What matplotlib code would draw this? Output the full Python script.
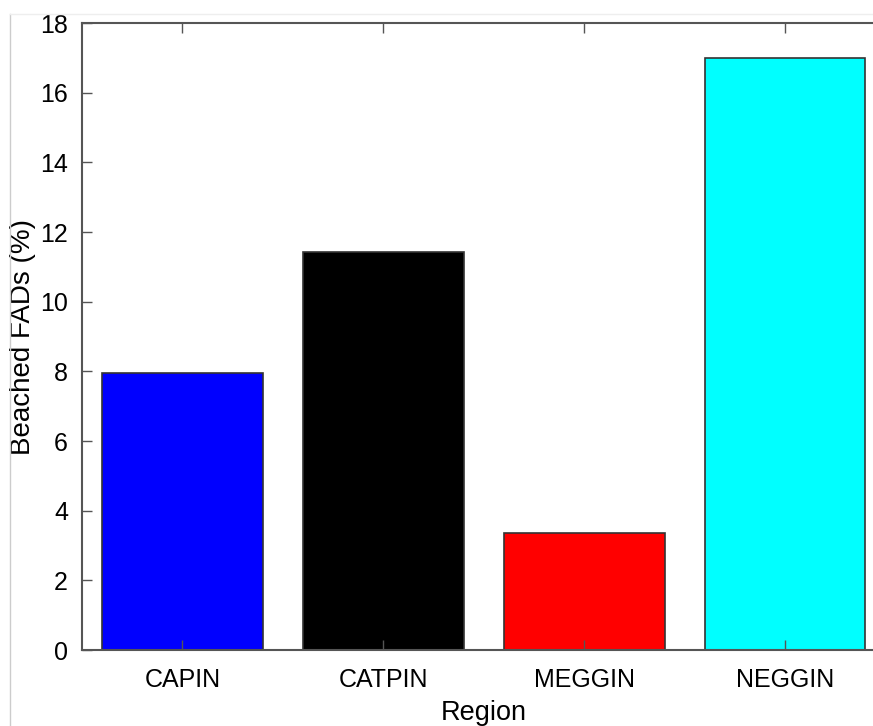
import matplotlib
matplotlib.use('Agg')
import matplotlib.pyplot as plt
from matplotlib.lines import Line2D

regions = ['CAPIN', 'CATPIN', 'MEGGIN', 'NEGGIN']
beached = [7.95, 11.43, 3.36, 17.0]
colors = ['#0000ff', '#000000', '#ff0000', '#00ffff']
yticks = [0, 2, 4, 6, 8, 10, 12, 14, 16, 18]

plt.rcParams['font.family'] = ['Liberation Sans', 'DejaVu Sans']

fig = plt.figure(figsize=(8.73, 7.26), dpi=100)
ax = fig.add_axes([82 / 873, 1 - 650 / 726, 803.5 / 873, 627 / 726])

x = list(range(1, len(regions) + 1))
ax.bar(x, beached, width=0.8, color=colors, edgecolor='#333333', linewidth=1.2)

ax.set_xlim(0.5, 4.5)
ax.set_ylim(0, 18)
ax.set_xticks(x)
ax.set_xticklabels(regions)
ax.set_yticks(yticks)
ax.tick_params(direction='in', length=7, width=1, color='#555555',
               labelsize=18, top=True, right=True)
ax.tick_params(axis='x', pad=13)
ax.tick_params(axis='y', pad=10)
for s in ax.spines.values():
    s.set_color('#555555')
    s.set_linewidth(1.5)

ax.set_xlabel('Region', fontsize=19.5)
ax.set_ylabel('Beached FADs (%)', fontsize=20)
ax.xaxis.set_label_coords(0.5, -0.08)
ax.yaxis.set_label_coords(-0.057, 0.5)

# faint frame of the original picture
fig.add_artist(Line2D([10 / 873, 10 / 873], [0, 1 - 14 / 726], color='#cccccc', linewidth=1))
fig.add_artist(Line2D([10 / 873, 1], [1 - 14 / 726, 1 - 14 / 726], color='#eeeeee', linewidth=1))

plt.savefig('out.png', dpi=100)
plt.close()
